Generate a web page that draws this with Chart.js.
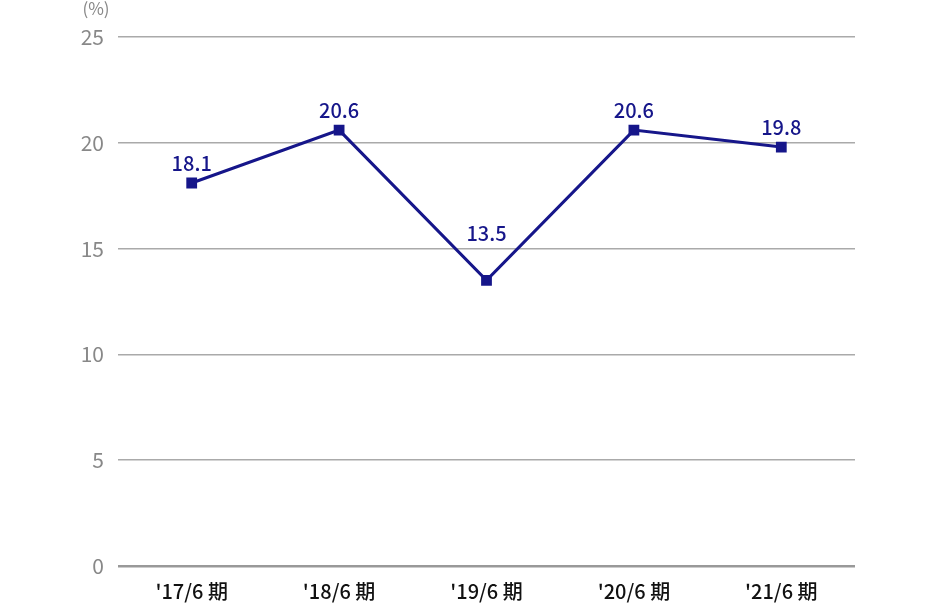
<!DOCTYPE html>
<html><head><meta charset="utf-8">
<script src="https://cdn.jsdelivr.net/npm/chart.js@4"></script>
<style>html,body{margin:0;padding:0;background:#fff}#w{width:930px;height:604px;position:relative}</style>
</head><body><div id="w"><canvas id="c" width="930" height="604"></canvas></div>
<script>
const categories = ["'17/6 期", "'18/6 期", "'19/6 期", "'20/6 期", "'21/6 期"];
const values = [18.1, 20.6, 13.5, 20.6, 19.8];
const yTicks = [0, 5, 10, 15, 20, 25];
const unitLabel = "(%)";
const FONT = "'Noto Sans CJK JP','Noto Sans',sans-serif";
const NAVY = '#16168a';

const labelPlugin = {
  id: 'lbl',
  afterDatasetsDraw(chart) {
    const ctx = chart.ctx;
    const meta = chart.getDatasetMeta(0);
    ctx.save();
    ctx.fillStyle = NAVY;
    ctx.font = '500 20px ' + FONT;
    ctx.textAlign = 'center';
    ctx.textBaseline = 'alphabetic';
    meta.data.forEach((p, i) => {
      const prev = i > 0 ? values[i - 1] : -Infinity;
      const next = i < values.length - 1 ? values[i + 1] : -Infinity;
      const isMin = values[i] < prev && values[i] < next && i > 0 && i < values.length - 1;
      const off = isMin ? 39 : 12;
      ctx.fillText(values[i].toFixed(1), p.x, p.y - off);
    });
    ctx.fillStyle = '#888';
    ctx.font = '17px ' + FONT;
    ctx.textAlign = 'center';
    ctx.fillText(unitLabel, 96, 15);
    ctx.restore();
  }
};

new Chart(document.getElementById('c'), {
  type: 'line',
  data: {
    labels: categories,
    datasets: [{
      data: values,
      borderColor: NAVY,
      backgroundColor: NAVY,
      borderWidth: 3,
      pointStyle: 'rect',
      pointRadius: 5.5,
      pointHoverRadius: 5.5,
      tension: 0
    }]
  },
  options: {
    responsive: false,
    animation: false,
    layout: { padding: { top: 37, right: 75, left: 0, bottom: 0 } },
    plugins: { legend: { display: false }, tooltip: { enabled: false } },
    scales: {
      x: {
        offset: true,
        grid: { display: false },
        border: { display: false },
        ticks: { color: '#111', font: { family: FONT, size: 20, weight: '500' }, padding: 5 },
        afterFit(s) { s.height = 38; }
      },
      y: {
        min: 0, max: 25,
        afterBuildTicks(s) { s.ticks = yTicks.map(v => ({ value: v })); },
        grid: {
          color: (c) => c.tick && c.tick.value === 0 ? '#999' : '#aaa',
          lineWidth: (c) => c.tick && c.tick.value === 0 ? 2.5 : 1.5,
          drawTicks: false
        },
        border: { display: false },
        ticks: { color: '#888', font: { family: FONT, size: 21 }, padding: 14 },
        afterFit(s) { s.width = 118; }
      }
    }
  },
  plugins: [labelPlugin]
});
</script>
</body></html>
